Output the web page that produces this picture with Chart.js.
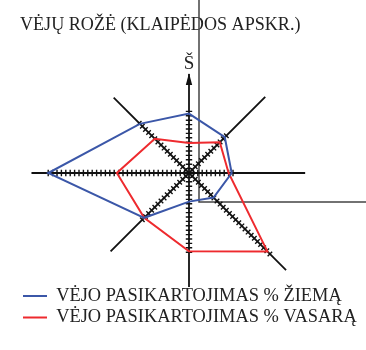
<!DOCTYPE html>
<html>
<head>
<meta charset="utf-8">
<style>
  html, body { margin: 0; padding: 0; background: #ffffff; }
  #wrap { position: relative; width: 366px; height: 350px; }
</style>
<script src="https://cdn.jsdelivr.net/npm/chart.js@4.4.1/dist/chart.umd.min.js"></script>
</head>
<body>
<div id="wrap"><canvas id="c" width="366" height="350"></canvas></div>
<script>
// ---- data ----
const directions = ['Š', 'ŠR', 'R', 'PR', 'P', 'PV', 'V', 'ŠV'];
const winter = [13.5, 11.5, 9.7, 7.9, 6.5, 14.4, 32.0, 15.8];
const summer = [6.8, 9.9, 9.0, 25.2, 17.8, 14.4, 16.4, 11.0];
const axisLength = [22.5, 24.5, 26.4, 31.2, 25.9, 25.2, 35.8, 24.2];
const seriesLabels = ['VĖJO PASIKARTOJIMAS % ŽIEMĄ', 'VĖJO PASIKARTOJIMAS % VASARĄ'];
const titleText = 'VĖJŲ ROŽĖ (KLAIPĖDOS APSKR.)';
const northLabel = 'Š';

const serif = '"Liberation Serif", "Times New Roman", serif';

const windRosePlugin = {
  id: 'windRose',
  beforeDatasetsDraw(chart) {
    const s = chart.scales.r;
    const ctx = chart.ctx;
    ctx.save();
    // map frame lines behind the rose
    ctx.strokeStyle = '#444';
    ctx.lineWidth = 1.5;
    ctx.beginPath();
    ctx.moveTo(199, 0); ctx.lineTo(199, 202); ctx.lineTo(366, 202);
    ctx.stroke();

    const c = s.getPointPositionForValue(0, 0);
    ctx.strokeStyle = '#111';
    for (let i = 0; i < directions.length; i++) {
      const end = s.getPointPositionForValue(i, axisLength[i]);
      ctx.lineWidth = 1.8;
      ctx.beginPath();
      ctx.moveTo(c.x, c.y); ctx.lineTo(end.x, end.y);
      ctx.stroke();
      const a = s.getIndexAngle(i) - Math.PI / 2;
      const px = -Math.sin(a), py = Math.cos(a);
      const n = Math.ceil(Math.max(winter[i], summer[i]));
      ctx.lineWidth = 1.4;
      ctx.beginPath();
      for (let k = 1; k <= n; k++) {
        const p = s.getPointPositionForValue(i, k);
        ctx.moveTo(p.x - 3.2 * px, p.y - 3.2 * py);
        ctx.lineTo(p.x + 3.2 * px, p.y + 3.2 * py);
      }
      ctx.stroke();
    }
    // arrow on the north axis
    const tip = s.getPointPositionForValue(0, axisLength[0]);
    ctx.fillStyle = '#111';
    ctx.beginPath();
    ctx.moveTo(tip.x, tip.y - 1);
    ctx.lineTo(tip.x - 3.2, tip.y + 11);
    ctx.lineTo(tip.x + 3.2, tip.y + 11);
    ctx.closePath();
    ctx.fill();
    // north label
    ctx.fillStyle = '#222';
    ctx.font = '19px ' + serif;
    ctx.textAlign = 'center';
    ctx.textBaseline = 'alphabetic';
    ctx.fillText(northLabel, tip.x, tip.y - 5);
    ctx.restore();
  }
};

new Chart(document.getElementById('c'), {
  type: 'radar',
  data: {
    labels: directions,
    datasets: [
      { label: seriesLabels[0], data: winter, borderColor: '#3b57a8', backgroundColor: '#3b57a8',
        borderWidth: 2, fill: false, pointRadius: 0, pointHoverRadius: 0, clip: false },
      { label: seriesLabels[1], data: summer, borderColor: '#ee2a2e', backgroundColor: '#ee2a2e',
        borderWidth: 2, fill: false, pointRadius: 0, pointHoverRadius: 0, clip: false }
    ]
  },
  options: {
    responsive: false,
    animation: false,
    devicePixelRatio: 1,
    layout: { padding: { left: 20, right: 8, top: 0, bottom: 13.4 } },
    elements: { line: { tension: 0 } },
    scales: {
      r: {
        min: 0, max: 25,
        ticks: { display: false },
        grid: { display: false },
        angleLines: { display: false },
        pointLabels: { display: false }
      }
    },
    plugins: {
      tooltip: { enabled: false },
      title: {
        display: true, text: titleText, align: 'start', color: '#222',
        font: { family: serif, size: 18.1, weight: 'normal' },
        padding: { top: 14, bottom: 26.6 }
      },
      legend: {
        display: true, position: 'bottom', align: 'start',
        labels: {
          color: '#222', font: { family: serif, size: 18.4 },
          usePointStyle: true, pointStyle: 'line', pointStyleWidth: 24, padding: 3
        }
      }
    }
  },
  plugins: [windRosePlugin]
});
</script>
</body>
</html>
